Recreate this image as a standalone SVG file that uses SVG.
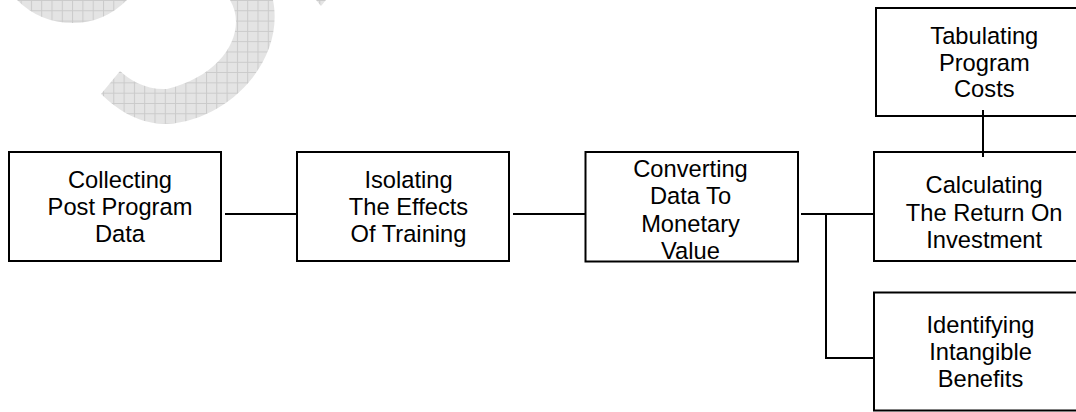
<svg xmlns="http://www.w3.org/2000/svg" width="1076" height="412" viewBox="0 0 1076 412">
<style>
.box{fill:#fff;stroke:#000;stroke-width:2}
.conn{fill:none;stroke:#000;stroke-width:2}
text{font-family:"Liberation Sans",Arial,sans-serif;font-size:23.7px;fill:#000;text-anchor:middle}
</style>
<defs>
<pattern id="grid" patternUnits="userSpaceOnUse" width="10.3" height="10.3">
<rect width="10.3" height="10.3" fill="#e4e4e4"/>
<path d="M0 0.5H10.3M0.5 0V10.3" stroke="#cacaca" stroke-width="1"/>
</pattern>
</defs>
<g id="watermark" fill="url(#grid)">
<path d="M17 0 Q40 23 73 23 Q104 23 127 0 Z"/>
<path d="M230 0 C248 30 225 75 167 89 C145 90 130 80 120 71 L101 94 C120 112 140 124 167 124 C230 120 285 60 273 0 Z"/>
<path d="M316 0 L326 0 L321 6 Z"/>
</g>
<g id="n1">
<rect class="box" x="9" y="152" width="212" height="109"/>
<text x="120" y="187.5">Collecting</text>
<text x="120" y="215">Post Program</text>
<text x="120" y="242">Data</text>
</g>
<g id="n2">
<rect class="box" x="297" y="152" width="212" height="109"/>
<text x="408.5" y="187.5">Isolating</text>
<text x="408.5" y="215">The Effects</text>
<text x="408.5" y="242">Of Training</text>
</g>
<g id="n3">
<rect class="box" x="585.5" y="152" width="212.5" height="109.5"/>
<text x="690.5" y="176.5">Converting</text>
<text x="690.5" y="204">Data To</text>
<text x="690.5" y="231.5">Monetary</text>
<text x="690.5" y="259">Value</text>
</g>
<g id="n4">
<rect class="box" x="876" y="8" width="220" height="108"/>
<text x="984.3" y="44">Tabulating</text>
<text x="984.3" y="70.7">Program</text>
<text x="984.3" y="97.3">Costs</text>
</g>
<g id="n5">
<rect class="box" x="874" y="152" width="220" height="109"/>
<text x="984.2" y="193.3">Calculating</text>
<text x="984.2" y="220.7">The Return On</text>
<text x="984.2" y="247.7">Investment</text>
</g>
<g id="n6">
<rect class="box" x="874" y="292.5" width="220" height="118"/>
<text x="980.5" y="332.7">Identifying</text>
<text x="980.5" y="360">Intangible</text>
<text x="980.5" y="387.3">Benefits</text>
</g>
<g id="connectors">
<path class="conn" d="M225 214H297"/>
<path class="conn" d="M513 214H586"/>
<path class="conn" d="M801 214H874"/>
<path class="conn" d="M826 214V358H874"/>
<path class="conn" d="M983 110V157"/>
</g>
</svg>
